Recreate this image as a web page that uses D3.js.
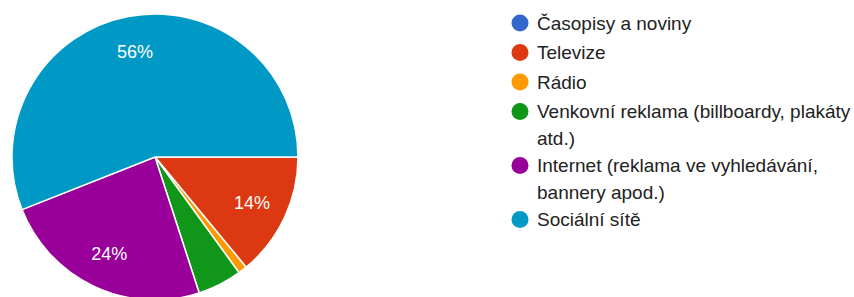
<!DOCTYPE html>
<html>
<head>
<meta charset="utf-8">
<script src="https://cdn.jsdelivr.net/npm/d3@7"></script>
<style>
  body { margin: 0; background: #fff; }
  svg { display: block; font-family: "Liberation Sans", Arial, Helvetica, sans-serif; }
  .sliceLabel { fill: #fff; font-size: 18px; text-anchor: middle; }
  .legendText { fill: #222; font-size: 19px; }
</style>
</head>
<body>
<div id="chart"></div>
<script>
// Data
var categories = ["Časopisy a noviny", "Televize", "Rádio", "Venkovní reklama (billboardy, plakáty atd.)", "Internet (reklama ve vyhledávání, bannery apod.)", "Sociální sítě"];
var shares = [0, 14, 1, 5, 24, 56];
var colors = ["#3366cc", "#dc3912", "#ff9900", "#109618", "#990099", "#0099c6"];

var svgWidth = 854;
var svgHeight = 297;

var svg = d3.select("#chart")
  .append("svg")
  .attr("width", svgWidth)
  .attr("height", svgHeight);

var data = categories.map(function(c, i) {
  return { name: c, value: shares[i], color: colors[i] };
});

var radius = 143;
var pieGroup = svg.append("g")
  .attr("transform", "translate(155, 157)");

// slices go clockwise, starting at 3 o'clock
var pie = d3.pie()
  .sort(null)
  .value(d => d.value)
  .startAngle(Math.PI / 2)
  .endAngle(Math.PI / 2 + 2 * Math.PI);

var arc = d3.arc().innerRadius(0).outerRadius(radius);
var labelArc = d3.arc().innerRadius(radius * 0.75).outerRadius(radius * 0.75);

var arcs = pie(data);

pieGroup.selectAll("path")
  .data(arcs.filter(d => d.value > 0))
  .enter()
  .append("path")
  .attr("d", arc)
  .attr("fill", d => d.data.color)
  .attr("stroke", "#fff")
  .attr("stroke-width", 1.5);

// percent labels only on the bigger slices
var total = d3.sum(shares);
pieGroup.selectAll(".sliceLabel")
  .data(arcs.filter(d => d.value / total >= 0.1))
  .enter()
  .append("text")
  .attr("class", "sliceLabel")
  .attr("transform", d => `translate(${labelArc.centroid(d)})`)
  .attr("dy", "0.35em")
  .text(d => Math.round(d.value / total * 100) + "%");

// Legend
var legendX = 520;
var legendY = 23;
var maxTextWidth = 322;
var legend = svg.append("g");

var y = legendY;
data.forEach(function(d) {
  var item = legend.append("g");
  item.append("circle")
    .attr("cx", legendX)
    .attr("cy", y)
    .attr("r", 8.5)
    .attr("fill", d.color);

  var text = item.append("text")
    .attr("class", "legendText")
    .attr("x", legendX + 17)
    .attr("y", y)
    .attr("dy", "0.35em");

  // wrap long names
  var words = d.name.split(" ");
  var line = [];
  var lines = 0;
  var tspan = text.append("tspan").attr("x", legendX + 17);
  words.forEach(function(w) {
    line.push(w);
    tspan.text(line.join(" "));
    if (tspan.node().getComputedTextLength() > maxTextWidth && line.length > 1) {
      line.pop();
      tspan.text(line.join(" "));
      line = [w];
      lines++;
      tspan = text.append("tspan")
        .attr("x", legendX + 17)
        .attr("dy", "27px")
        .text(w);
    }
  });
  y += lines > 0 ? 27 * (lines + 1) : 29.5;
});
</script>
</body>
</html>
